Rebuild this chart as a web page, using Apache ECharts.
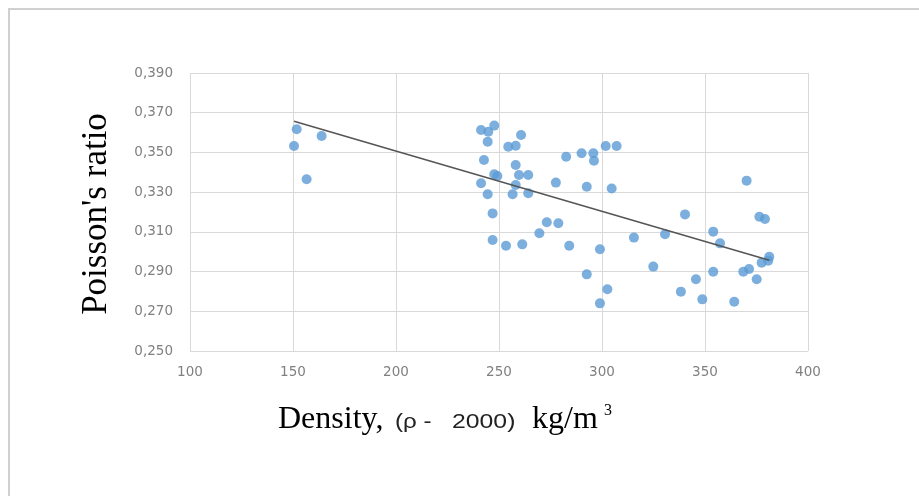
<!DOCTYPE html>
<html>
<head>
<meta charset="utf-8">
<script src="https://cdn.jsdelivr.net/npm/echarts@6/dist/echarts.min.js"></script>
<style>
  html, body { margin: 0; padding: 0; background: #fff; }
  #chart { width: 919px; height: 496px; }
</style>
</head>
<body>
<div id="chart"></div>
<script>
// Density offset (rho - 2000, kg/m3) and measured Poisson's ratio
const density = [
  151.8, 150.5, 163.9, 156.6,
  241.3, 244.8, 247.7, 244.5, 260.7, 254.5, 258.1, 242.7, 258.1, 247.7, 249.2,
  259.7, 264.2, 241.3, 258.1, 244.5, 256.6, 264.2,
  246.9, 246.9, 253.4, 261.3, 269.6, 273.2, 278.8, 284.1, 277.6, 282.6, 290.1,
  295.8, 296.1, 301.8, 307.1, 292.6, 304.7, 299.0, 292.6, 302.6, 299.0,
  370.2, 340.3, 376.4, 379.1, 315.5, 330.6, 354.0, 357.3, 381.2, 377.5, 380.7,
  324.9, 354.0, 368.6, 371.4, 375.1, 345.6, 338.3, 348.7, 364.2
];
const poisson = [
  0.3617, 0.3532, 0.3583, 0.3365,
  0.3613, 0.3604, 0.3635, 0.3554, 0.3588, 0.3529, 0.3534, 0.3462, 0.3437, 0.3390, 0.3381,
  0.3386, 0.3386, 0.3345, 0.3336, 0.3289, 0.3289, 0.3294,
  0.3193, 0.3059, 0.3030, 0.3037, 0.3093, 0.3148, 0.3143, 0.3030, 0.3348, 0.3478, 0.3496,
  0.3496, 0.3458, 0.3532, 0.3532, 0.3327, 0.3318, 0.3012, 0.2886, 0.2811, 0.2740,
  0.3358, 0.3188, 0.3176, 0.3165, 0.3071, 0.3088, 0.3101, 0.3042, 0.2975, 0.2945, 0.2955,
  0.2925, 0.2899, 0.2899, 0.2913, 0.2861, 0.2861, 0.2799, 0.2760, 0.2748
];
// Linear trend end points
const trendX = [150.5, 381.2];
const trendY = [0.3657, 0.2957];

const xTicks = [100, 150, 200, 250, 300, 350, 400];
const yTicks = ['0,250', '0,270', '0,290', '0,310', '0,330', '0,350', '0,370', '0,390'];

const points = density.map((d, i) => [d, poisson[i]]);
const trend = trendX.map((d, i) => [d, trendY[i]]);

const chart = echarts.init(document.getElementById('chart'), null, { renderer: 'canvas' });

const labelFont = { color: '#808080', fontSize: 13.5, fontFamily: 'DejaVu Sans' };
const gridLine = { show: true, lineStyle: { color: '#d9d9d9', width: 1 } };

chart.setOption({
  animation: false,
  backgroundColor: '#ffffff',
  graphic: [
    {
      type: 'rect',
      shape: { x: 9, y: 9, width: 930, height: 510 },
      style: { fill: 'none', stroke: '#d0d0d0', lineWidth: 2 },
      silent: true,
      z: -1
    },
    {
      type: 'text',
      x: 97,
      y: 214,
      rotation: Math.PI / 2,
      style: {
        text: "Poisson's ratio",
        font: '35px "Liberation Serif"',
        fill: '#000',
        align: 'center',
        verticalAlign: 'middle'
      }
    },
    {
      type: 'text',
      x: 278, y: 420,
      style: { text: 'Density,', font: '32px "Liberation Serif"', fill: '#000', verticalAlign: 'middle' }
    },
    {
      type: 'text',
      x: 395, y: 422, scaleX: 1.15,
      style: { text: '(ρ -', font: '21px "Liberation Sans"', fill: '#222', verticalAlign: 'middle' }
    },
    {
      type: 'text',
      x: 452, y: 422, scaleX: 1.18,
      style: { text: '2000)', font: '21px "Liberation Sans"', fill: '#222', verticalAlign: 'middle' }
    },
    {
      type: 'text',
      x: 532, y: 420,
      style: { text: 'kg/m', font: '32px "Liberation Serif"', fill: '#000', verticalAlign: 'middle' }
    },
    {
      type: 'text',
      x: 604, y: 411,
      style: { text: '3', font: '16px "Liberation Serif"', fill: '#000', verticalAlign: 'middle' }
    }
  ],
  grid: { left: 190, right: 111, top: 73, bottom: 145, containLabel: false },
  xAxis: {
    type: 'value',
    min: xTicks[0],
    max: xTicks[xTicks.length - 1],
    interval: xTicks[1] - xTicks[0],
    axisLine: { show: false },
    axisTick: { show: false },
    splitLine: gridLine,
    axisLabel: Object.assign({ margin: 14 }, labelFont)
  },
  yAxis: {
    type: 'value',
    min: 0.25,
    max: 0.39,
    interval: 0.02,
    axisLine: { show: false },
    axisTick: { show: false },
    splitLine: gridLine,
    axisLabel: Object.assign({
      margin: 17,
      formatter: (v) => yTicks[Math.round((v - 0.25) / 0.02)]
    }, labelFont)
  },
  series: [
    {
      type: 'scatter',
      data: points,
      symbol: 'circle',
      symbolSize: 10,
      itemStyle: { color: '#5b9bd5' },
      z: 3
    },
    {
      type: 'line',
      data: trend,
      symbol: 'none',
      lineStyle: { color: '#555555', width: 1.5 },
      z: 4
    }
  ]
});
</script>
</body>
</html>
